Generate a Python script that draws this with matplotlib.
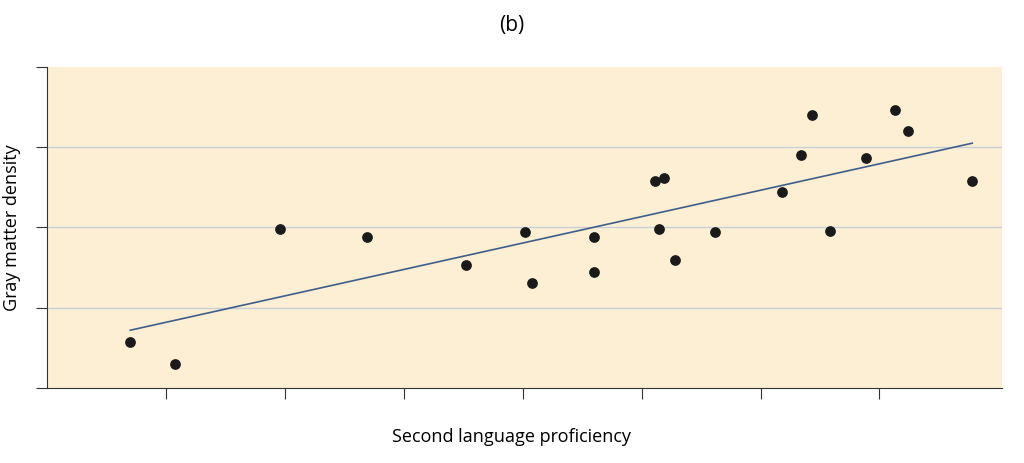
import matplotlib.pyplot as plt

# proficiency (x) and gray matter density (y), arbitrary units
proficiency = [0.70, 1.08, 1.96, 2.69, 3.52, 4.02, 4.08, 4.60, 4.60, 5.11, 5.19,
               5.15, 5.28, 5.62, 6.18, 6.34, 6.43, 6.58, 6.89, 7.13, 7.24, 7.78]
density = [0.57, 0.30, 1.98, 1.88, 1.53, 1.94, 1.31, 1.88, 1.45, 2.58, 2.62,
           1.98, 1.60, 1.94, 2.44, 2.90, 3.40, 1.96, 2.87, 3.46, 3.20, 2.58]
fit_x = [0.70, 7.78]
fit_y = [0.72, 3.05]

fig = plt.figure(figsize=(10.24, 4.64), dpi=100)
ax = fig.add_axes([0.0459, 0.1616, 0.9326, 0.692])
ax.set_facecolor('#fcefd4')
ax.set_xlim(0, 8.03)
ax.set_ylim(0, 4)
ax.set_xticks(range(1, 8))
ax.set_yticks(range(0, 5))
ax.set_xticklabels([])
ax.set_yticklabels([])
for y in (1, 2, 3):
    ax.axhline(y, color='#c9cfd6', lw=1, zorder=1)
ax.plot(fit_x, fit_y, color='#3e5f8a', lw=1.2, zorder=2)
ax.scatter(proficiency, density, s=45, color='#1a1a1a', zorder=3)
for s in ('top', 'right'):
    ax.spines[s].set_visible(False)
for s in ('left', 'bottom'):
    ax.spines[s].set_color('#333333')
ax.tick_params(direction='out', length=8, color='#333333')
fig.text(0.5, 0.944, '(b)', ha='center', va='center', fontsize=15, family='Open Sans')
fig.text(0.5, 0.058, 'Second language proficiency', ha='center', va='center',
         fontsize=13, family='Open Sans')
fig.text(0.012, 0.51, 'Gray matter density', ha='center', va='center',
         rotation=90, fontsize=13, family='Open Sans')
fig.savefig('out.png', dpi=100)
